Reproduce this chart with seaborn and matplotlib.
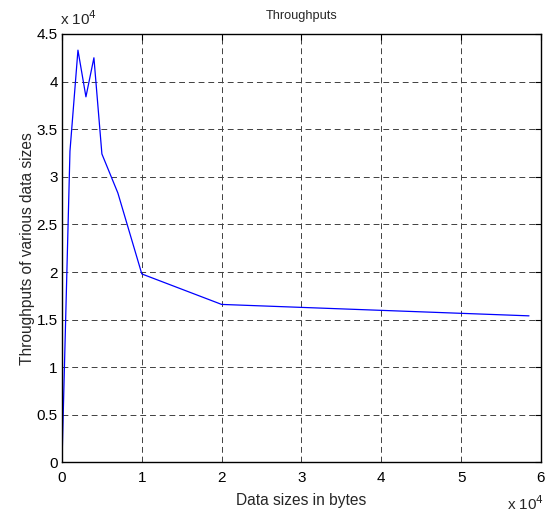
import numpy as np
import pandas as pd
import matplotlib
matplotlib.use("Agg")
import matplotlib.pyplot as plt
from matplotlib.ticker import FuncFormatter
import seaborn as sns

# data (bytes, throughput)
data_sizes = [0, 1000, 2000, 3000, 4000, 5000, 7000, 10000, 20000, 58500]
throughputs = [0, 32700, 43300, 38400, 42500, 32400, 28300, 19800, 16600, 15400]

x_ticks = [0, 10000, 20000, 30000, 40000, 50000, 60000]
y_ticks = [0, 5000, 10000, 15000, 20000, 25000, 30000, 35000, 40000, 45000]

df = pd.DataFrame({"size": data_sizes, "tp": throughputs})

sns.set_style("white")
plt.rcParams["font.family"] = ["Liberation Sans", "DejaVu Sans"]

fig = plt.figure(figsize=(5.5, 5.14), dpi=100)
ax = fig.add_axes([0.1127, 0.1002, 0.8709, 0.8337])

sns.lineplot(data=df, x="size", y="tp", color="blue", linewidth=0.9, ax=ax, sort=False)

ax.set_xlim(0, 60000)
ax.set_ylim(0, 45000)
ax.set_xticks(x_ticks)
ax.set_yticks(y_ticks)
fmt = FuncFormatter(lambda v, p: f"{v / 1e4:g}")
ax.xaxis.set_major_formatter(fmt)
ax.yaxis.set_major_formatter(fmt)
ax.tick_params(direction="in", length=4, width=0.8, labelsize=11, colors="black",
               top=True, right=True)
ax.tick_params(axis="x", pad=6)
ax.tick_params(axis="y", pad=3)
ax.grid(True, color="#404040", linestyle=(0, (6, 4)), linewidth=0.7)
for s in ax.spines.values():
    s.set_color("black")
    s.set_linewidth(1.0)

ax.set_xlabel("Data sizes in bytes", fontsize=11.2, labelpad=6)
ax.set_ylabel("Throughputs of various data sizes", fontsize=11.2, labelpad=1)
ax.set_title("Throughputs", fontsize=9.2, pad=11)

fig.text(0.11, 0.946, r"x 10$^{4}$", fontsize=11, ha="left", va="bottom")
fig.text(0.922, 0.002, r"x 10$^{4}$", fontsize=11, ha="left", va="bottom")

fig.savefig("out.png", dpi=100)
